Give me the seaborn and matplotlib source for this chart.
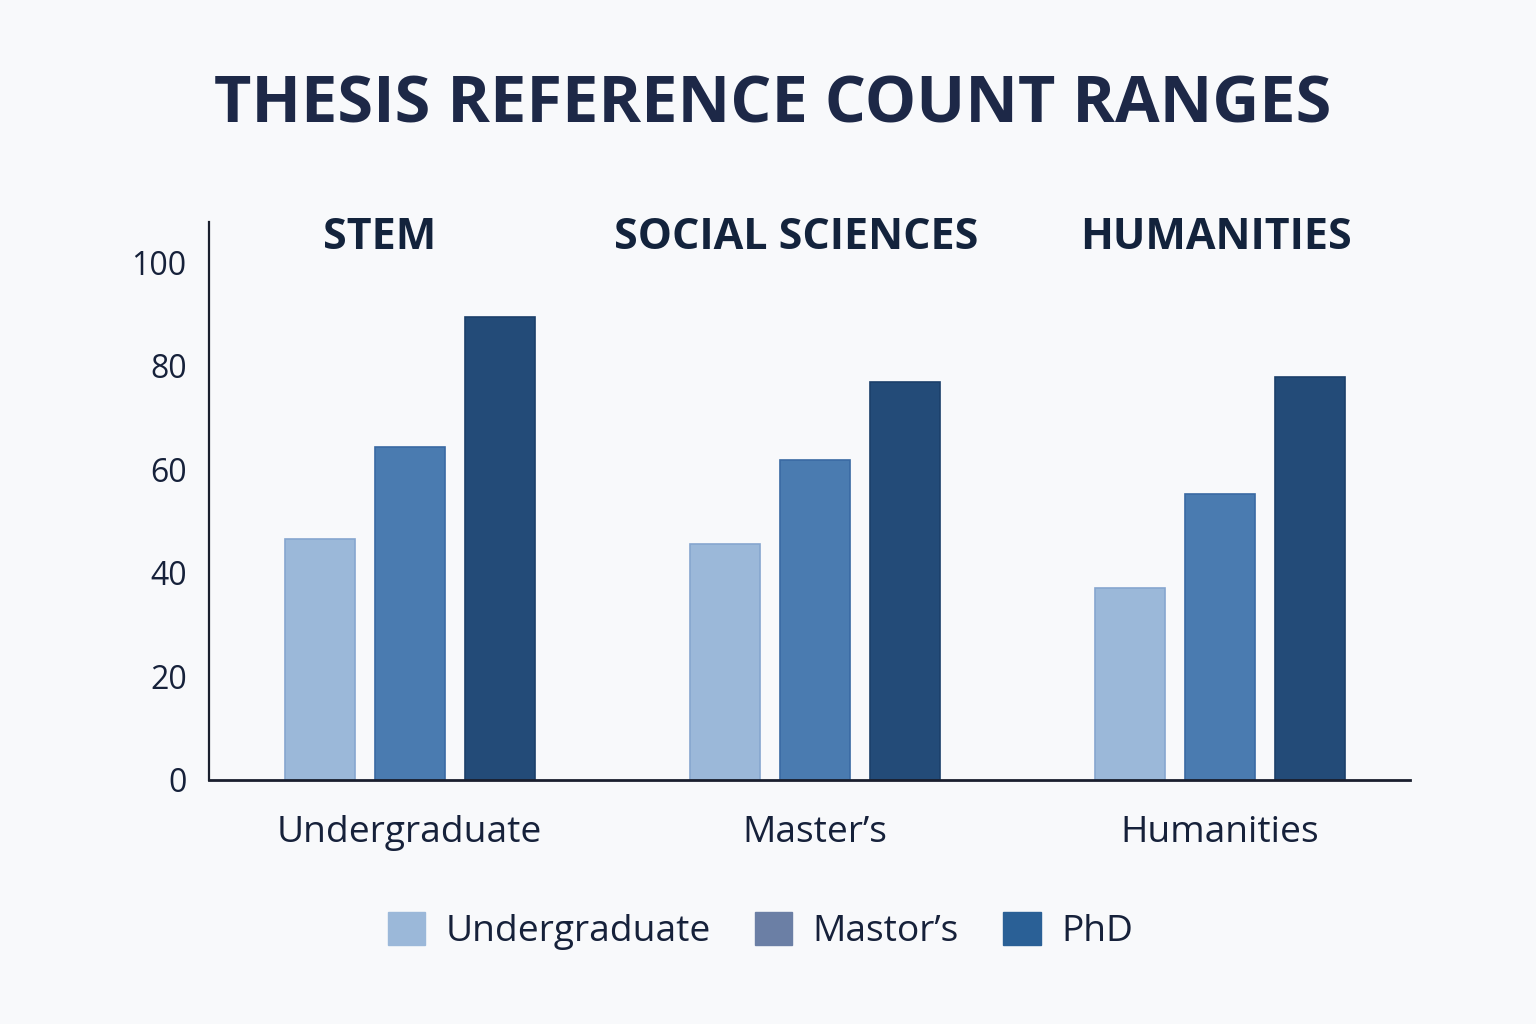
import matplotlib
matplotlib.use("Agg")
import matplotlib.pyplot as plt
from matplotlib.patches import Patch
import seaborn as sns
import pandas as pd

# ---- data ----
groups = ["STEM", "SOCIAL SCIENCES", "HUMANITIES"]
tick_labels = ["Undergraduate", "Master\u2019s", "Humanities"]
levels = ["Undergraduate", "Master's", "PhD"]
undergrad = [46.5, 45.5, 37.0]
masters = [64.3, 61.8, 55.2]
phd = [89.4, 76.8, 77.8]
legend_labels = ["Undergraduate", "Mastor\u2019s", "PhD"]
yticks = [0, 20, 40, 60, 80, 100]

bar_colors = ["#9bb8d9", "#4a7bb0", "#234b78"]
edge_colors = ["#86a6cf", "#3a6aa3", "#1b3f6a"]
legend_colors = ["#9bb8d9", "#6b7fa5", "#2a6096"]

rows = []
for lvl, vals in zip(levels, [undergrad, masters, phd]):
    for g, v in zip(groups, vals):
        rows.append({"group": g, "level": lvl, "count": v})
df = pd.DataFrame(rows)

sns.set_theme(style="white")
plt.rcParams["font.family"] = ["Open Sans", "Noto Sans", "DejaVu Sans"]

BG = "#f8f9fb"
TXT = "#16213a"
fig = plt.figure(figsize=(15.36, 10.24), dpi=100, facecolor=BG)
ax = fig.add_axes([0.136, 0.2383, 0.782, 0.5447])
ax.set_facecolor(BG)

sns.barplot(data=df, x="group", y="count", hue="level", order=groups,
            hue_order=levels, palette=bar_colors, width=0.667, gap=0.22,
            ax=ax, legend=False, saturation=1)

for i, cont in enumerate(ax.containers):
    for p in cont:
        p.set_edgecolor(edge_colors[i])
        p.set_linewidth(1.2)

ax.set_xlim(-0.496, 2.47)
ax.set_ylim(0, 107.7)
ax.set_yticks(yticks)
ax.set_yticklabels([str(t) for t in yticks], fontsize=23, color=TXT)
ax.set_xticks(range(len(groups)))
ax.set_xticklabels(tick_labels, fontsize=26.7, color=TXT)
ax.tick_params(axis="y", length=0, pad=16)
ax.tick_params(axis="x", length=0, pad=25)
ax.set_xlabel("")
ax.set_ylabel("")

for s in ["top", "right"]:
    ax.spines[s].set_visible(False)
ax.spines["left"].set_color("#1a1f2e")
ax.spines["left"].set_linewidth(1.6)
ax.spines["bottom"].set_color("#1a1f2e")
ax.spines["bottom"].set_linewidth(2.0)

# group headings
head_x = [-0.074, 0.953, 1.99]
for hx, g in zip(head_x, groups):
    ax.text(hx, 104.8, g, ha="center", va="center", fontsize=31,
            fontweight="bold", color="#13233c")

fig.text(0.503, 0.896, "THESIS REFERENCE COUNT RANGES", ha="center",
         va="center", fontsize=46.6, fontweight="bold", color="#1d2847")

handles = [Patch(facecolor=c, edgecolor=c, label=l)
           for c, l in zip(legend_colors, legend_labels)]
fig.legend(handles=handles, loc="center", bbox_to_anchor=(0.495, 0.091),
           ncol=3, frameon=False, fontsize=26.7, handlelength=1.0,
           handleheight=1.0, columnspacing=1.2, handletextpad=0.55,
           labelcolor=TXT)

fig.savefig("out.png", dpi=100, facecolor=BG)
